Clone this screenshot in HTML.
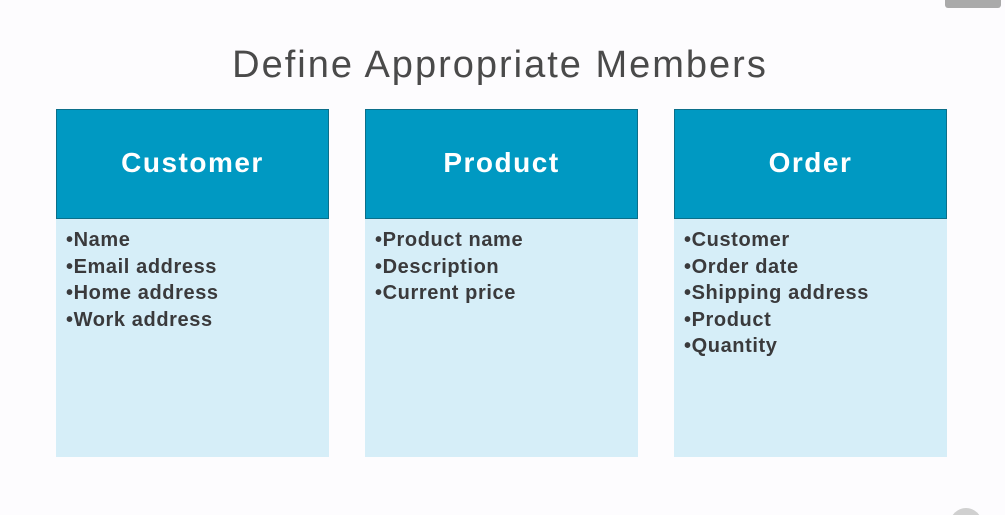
<!DOCTYPE html>
<html style="margin:0;width:1005px;height:515px;overflow:hidden"><head><style>
body{margin:0;width:1005px;height:515px;background:#fdfcfe;position:relative;overflow:hidden;font-family:"Liberation Sans",sans-serif}
.t{position:absolute;left:0;width:1000px;top:44px;text-align:center;font-size:38px;color:#4a4a4a;font-weight:300;letter-spacing:2px}
.col{position:absolute;top:109px;width:273px;height:348px;background:#d6eef8}
.h{background:#0099c2;border:1px solid #0b6f8a;box-sizing:border-box;height:110px;color:#fff;font-weight:bold;font-size:28px;letter-spacing:1.5px;text-align:center;line-height:106px}
.l{padding:8px 0 0 10px;color:#3a3a3c;font-size:20px;font-weight:bold;line-height:26.5px;letter-spacing:0.6px}
</style></head><body>
<div style="position:absolute;left:945px;top:0;width:56px;height:8px;background:#aaa;border-radius:0 0 3px 3px"></div>
<div style="position:absolute;left:950px;top:508px;width:32px;height:32px;border-radius:50%;background:#d0d0d0"></div>
<div class="t">Define Appropriate Members</div>
<div class="col" style="left:56px"><div class="h">Customer</div><div class="l">•Name<br>•Email address<br>•Home address<br>•Work address</div></div>
<div class="col" style="left:365px"><div class="h">Product</div><div class="l">•Product name<br>•Description<br>•Current price</div></div>
<div class="col" style="left:674px"><div class="h">Order</div><div class="l">•Customer<br>•Order date<br>•Shipping address<br>•Product<br>•Quantity</div></div>
</body></html>
